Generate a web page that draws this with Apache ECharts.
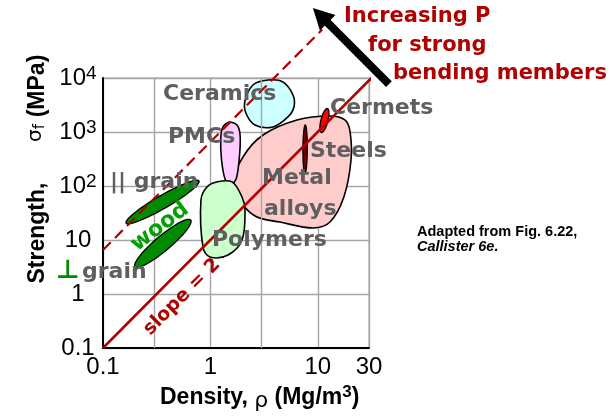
<!DOCTYPE html>
<html>
<head>
<meta charset="utf-8">
<script src="https://cdn.jsdelivr.net/npm/echarts@6/dist/echarts.min.js"></script>
<style>
  html, body { margin: 0; padding: 0; background: #fff; }
  #chart { width: 612px; height: 417px; }
</style>
</head>
<body>
<div id="chart"></div>
<script>
// Axis ticks and labels
const xLabelValues = [0.1, 1, 10, 30];
const xLabelText = ['0.1', '1', '10', '30'];
const xExtraGrid = [0.3, 3];
const yTickValues = [0.1, 1, 10, 100, 1000, 10000];
const yTickBase = ['0.1', '1', '10', '10', '10', '10'];
const yTickExp = ['', '', '', '2', '3', '4'];

// Material families: outline points [density (Mg/m3), strength (MPa)]
const metalAlloys = [[2.01, 344], [3.09, 879], [6.40, 1670], [13.0, 1980], [17.9, 1670], [20.0, 1000],
  [20.4, 303], [17.5, 62.5], [13.0, 21.5], [9.02, 16.7], [4.45, 21.5], [2.72, 26.7], [2.01, 44.5], [1.59, 104]];
const ceramics = [[3.44, 9180], [4.74, 8430], [5.88, 4840], [6.00, 2900], [5.28, 1900], [3.83, 1240],
  [2.60, 1350], [2.14, 2250], [2.10, 3750], [2.49, 7410]];
const pmcs = [[1.49, 1530], [1.77, 1350], [1.89, 879], [1.87, 375], [1.75, 141], [1.56, 104],
  [1.38, 129], [1.27, 303], [1.25, 774], [1.31, 1240]];
const polymers = [[1.15, 119], [1.59, 119], [1.97, 62.5], [2.10, 36.0], [1.97, 10.0], [1.46, 5.28],
  [0.991, 4.84], [0.853, 7.41], [0.817, 55.1], [0.929, 95.8]];

// Elongated families: the two ends of the long axis
const woodParallel = [[0.164, 20.6], [0.783, 124]];
const woodPerp = [[0.199, 3.2], [0.656, 23.5]];
const cermets = [[10.8, 979], [12.3, 2720]];
const steels = [[7.6, 172], [7.65, 1350]];

// Guide lines sigma = C * rho^2 and the direction arrow
const slopeLine = [[0.1, 0.1], [36, 12960]];
const offsetLine = [[0.1, 6.53], [11, 79000]];
const arrowPts = [[46, 7700], [9.0, 198000]];

const DARK_RED = '#b00000';
const GREY_TXT = '#5f5f5f';

function regionSeries(name, pts, fill, z, smooth) {
  return {
    type: 'custom', name, data: pts, silent: true, z,
    renderItem(params, api) {
      if (params.dataIndex !== 0) return null;
      return {
        type: 'polygon',
        shape: { points: pts.map(p => api.coord(p)), smooth: smooth },
        style: { fill, stroke: '#000', lineWidth: 1.6 }
      };
    }
  };
}

function ellipseSeries(name, ends, halfWidth, fill, z) {
  return {
    type: 'custom', name, data: ends, silent: true, z,
    renderItem(params, api) {
      if (params.dataIndex !== 0) return null;
      const a = api.coord(ends[0]), b = api.coord(ends[1]);
      const cx = (a[0] + b[0]) / 2, cy = (a[1] + b[1]) / 2;
      const dx = (b[0] - a[0]) / 2, dy = (b[1] - a[1]) / 2;
      const len = Math.hypot(dx, dy);
      const nx = -dy / len * halfWidth, ny = dx / len * halfWidth;
      const points = [];
      for (let k = 0; k < 60; k++) {
        const t = k / 60 * Math.PI * 2;
        points.push([cx + dx * Math.cos(t) + nx * Math.sin(t), cy + dy * Math.cos(t) + ny * Math.sin(t)]);
      }
      return { type: 'polygon', shape: { points }, style: { fill, stroke: '#000', lineWidth: 1.3 } };
    }
  };
}

function text(x, y, str, extra) {
  const e = extra || {};
  return {
    type: 'text', x, y, z: 100, rotation: e.rotation || 0, silent: true,
    style: Object.assign({
      text: str, fill: GREY_TXT, font: 'bold 22px "DejaVu Sans"', align: 'left', verticalAlign: 'middle'
    }, e.style || {})
  };
}

const chart = echarts.init(document.getElementById('chart'));

chart.setOption({
  animation: false,
  backgroundColor: '#fff',
  grid: { left: 103, top: 78, width: 266, height: 270, show: true, borderColor: '#9a9a9a', borderWidth: 1 },
  xAxis: {
    type: 'log', logBase: 10, min: 0.1, max: 30,
    axisLine: { show: true, onZero: false, lineStyle: { color: '#000', width: 2 } },
    axisTick: { show: false },
    splitLine: { show: true, lineStyle: { color: '#a6a6a6', width: 1.4 } },
    axisLabel: {
      margin: 7, fontSize: 24, fontFamily: 'Liberation Sans', color: '#000',
      formatter(v) {
        const i = xLabelValues.findIndex(t => Math.abs(Math.log10(t) - Math.log10(v)) < 1e-6);
        return i < 0 ? '' : xLabelText[i];
      }
    }
  },
  yAxis: {
    type: 'log', logBase: 10, min: 0.1, max: 10000, splitNumber: 5,
    axisLine: { show: true, onZero: false, lineStyle: { color: '#000', width: 2 } },
    axisTick: { show: false },
    splitLine: { show: true, lineStyle: { color: '#a6a6a6', width: 1.4 } },
    axisLabel: {
      margin: 25, align: 'center',
      formatter(v) {
        const i = yTickValues.findIndex(t => Math.abs(Math.log10(t) - Math.log10(v)) < 1e-6);
        if (i < 0) return '';
        return yTickExp[i] ? `{b|${yTickBase[i]}}{s|${yTickExp[i]}}` : `{b|${yTickBase[i]}}`;
      },
      rich: {
        b: { fontSize: 24, fontFamily: 'Liberation Sans', color: '#000', lineHeight: 28 },
        s: { fontSize: 19, fontFamily: 'Liberation Sans', color: '#000', lineHeight: 14, verticalAlign: 'top' }
      }
    }
  },
  series: [
    {
      type: 'line', name: 'extra grid', data: slopeLine, symbol: 'none', silent: true, z: 1,
      lineStyle: { opacity: 0 },
      markLine: {
        silent: true, symbol: ['none', 'none'], label: { show: false },
        lineStyle: { color: '#a6a6a6', width: 1.4, type: 'solid' },
        data: xExtraGrid.map(v => ({ xAxis: v }))
      }
    },
    regionSeries('Metal alloys', metalAlloys, '#ffcccc', 3, 0.35),
    regionSeries('Ceramics', ceramics, '#ccffff', 3, 0.35),
    regionSeries('PMCs', pmcs, '#ffccff', 4, 0.25),
    regionSeries('Polymers', polymers, '#ccffcc', 4, 0.35),
    ellipseSeries('wood parallel', woodParallel, 6.5, '#008a00', 5),
    ellipseSeries('wood perpendicular', woodPerp, 7.5, '#008a00', 5),
    ellipseSeries('Cermets', cermets, 3.5, '#ff0000', 5),
    ellipseSeries('Steels', steels, 2.2, '#6e0000', 5),
    {
      type: 'line', name: 'slope 2', data: slopeLine, symbol: 'none', clip: false, silent: true, z: 6,
      lineStyle: { color: DARK_RED, width: 2.6 }
    },
    {
      type: 'line', name: 'offset', data: offsetLine, symbol: 'none', clip: false, silent: true, z: 6,
      lineStyle: { color: DARK_RED, width: 2.2, type: [11, 6] }
    },
    {
      type: 'custom', name: 'arrow', data: arrowPts, silent: true, z: 7,
      renderItem(params, api) {
        if (params.dataIndex !== 0) return null;
        const tail = api.coord(arrowPts[0]), tip = api.coord(arrowPts[1]);
        const dx = tip[0] - tail[0], dy = tip[1] - tail[1];
        const L = Math.hypot(dx, dy), ux = dx / L, uy = dy / L;
        const headLen = 21, headHalf = 11;
        const base = [tip[0] - ux * headLen, tip[1] - uy * headLen];
        return {
          type: 'group', children: [
            { type: 'line', shape: { x1: tail[0], y1: tail[1], x2: base[0] + ux * 2, y2: base[1] + uy * 2 },
              style: { stroke: '#000', lineWidth: 8 } },
            { type: 'polygon', shape: { points: [tip,
                [base[0] - uy * headHalf, base[1] + ux * headHalf],
                [base[0] + uy * headHalf, base[1] - ux * headHalf]] },
              style: { fill: '#000' } }
          ]
        };
      }
    }
  ],
  graphic: [
    text(163, 94, 'Ceramics'),
    text(168, 137, 'PMCs'),
    text(110, 182, '|| grain'),
    text(82, 272, 'grain'),
    text(68, 271, '⊥', { style: { fill: '#008a00', align: 'center', font: 'bold 26px "DejaVu Sans"' } }),
    text(160, 227, 'wood', { rotation: 37 * Math.PI / 180, style: { fill: '#00a000', align: 'center' } }),
    text(212, 240, 'Polymers'),
    text(262, 178, 'Metal'),
    text(264, 209, 'alloys'),
    text(310, 151, 'Steels'),
    text(330, 108, 'Cermets'),
    text(182, 297, 'slope = 2', { rotation: Math.PI / 4, style: { fill: DARK_RED, align: 'center', font: 'bold 19px "DejaVu Sans"' } }),
    text(344, 17, 'Increasing P', { style: { fill: DARK_RED, font: 'bold 21px "DejaVu Sans"' } }),
    text(368, 46, 'for strong', { style: { fill: DARK_RED, font: 'bold 21px "DejaVu Sans"' } }),
    text(393, 74, 'bending members', { style: { fill: DARK_RED, font: 'bold 21px "DejaVu Sans"' } }),
    text(417, 232, 'Adapted from Fig. 6.22,', { style: { fill: '#000', font: 'bold 14.5px "Liberation Sans"' } }),
    text(417, 247, 'Callister 6e.', { style: { fill: '#000', font: 'italic bold 14.5px "Liberation Sans"' } }),
    // axis titles
    text(160, 398, '{b|Density,} {g|ρ} {b|(Mg/m}{s|3}{b|)}', {
      style: {
        fill: '#000', font: 'bold 23px "Liberation Sans"',
        rich: {
          b: { font: 'bold 23px "Liberation Sans"', fill: '#000', lineHeight: 28 },
          g: { font: '22px "DejaVu Sans"', fill: '#000', lineHeight: 20, verticalAlign: 'bottom' },
          s: { font: 'bold 17px "Liberation Sans"', fill: '#000', lineHeight: 14, verticalAlign: 'top' }
        }
      }
    }),
    text(38, 233, 'Strength,', { rotation: Math.PI / 2, style: { fill: '#000', align: 'center', font: 'bold 23px "Liberation Sans"' } }),
    text(36, 133, '{g|σ}{f|f}', {
      rotation: Math.PI / 2,
      style: {
        fill: '#000', align: 'center',
        rich: {
          g: { font: '20px "DejaVu Sans"', fill: '#000', lineHeight: 24 },
          f: { font: '15px "DejaVu Sans"', fill: '#000', lineHeight: 14, verticalAlign: 'bottom' }
        }
      }
    }),
    text(38, 86, '(MPa)', { rotation: Math.PI / 2, style: { fill: '#000', align: 'center', font: 'bold 23px "Liberation Sans"' } })
  ]
});
</script>
</body>
</html>
